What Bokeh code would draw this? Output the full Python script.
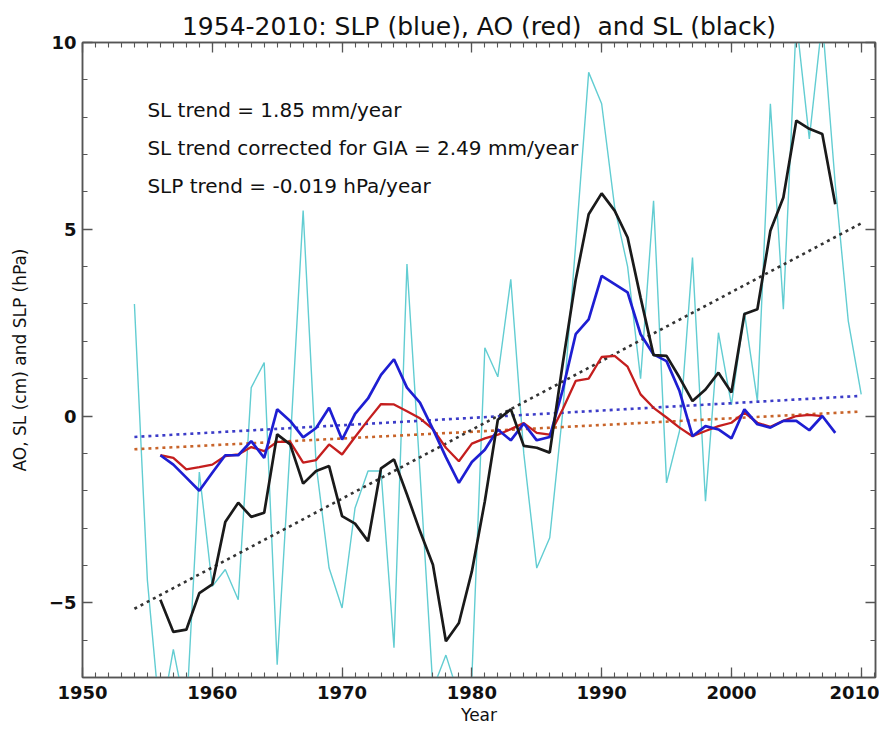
from bokeh.plotting import figure
from bokeh.models import Range1d, LinearAxis, SingleIntervalTicker, Label
from bokeh.embed import file_html
from bokeh.resources import INLINE

# ---------------- data ----------------
years_sl = list(range(1956, 2009))
sl = [-4.92, -5.78, -5.72, -4.74, -4.51, -2.84, -2.32, -2.70, -2.59, -0.49,
      -0.76, -1.81, -1.47, -1.34, -2.68, -2.88, -3.35, -1.40, -1.16, -2.10,
      -3.08, -3.98, -6.03, -5.54, -4.16, -2.28, -0.10, 0.18, -0.80, -0.85,
      -0.98, 1.40, 3.65, 5.40, 5.96, 5.50, 4.78, 3.17, 1.63, 1.61,
      1.03, 0.40, 0.71, 1.16, 0.63, 2.73, 2.86, 4.96, 5.85, 7.91,
      7.69, 7.55, 5.67]

years_slp = list(range(1956, 2009))
slp = [-1.05, -1.30, -1.65, -2.00, -1.52, -1.05, -1.05, -0.67, -1.12, 0.18,
       -0.13, -0.57, -0.32, 0.22, -0.63, 0.06, 0.47, 1.10, 1.52, 0.76,
       0.36, -0.35, -1.10, -1.79, -1.23, -0.90, -0.36, -0.65, -0.20, -0.65,
       -0.56, 0.70, 2.19, 2.59, 3.75, 3.53, 3.31, 2.19, 1.65, 1.47,
       0.67, -0.54, -0.27, -0.36, -0.60, 0.18, -0.22, -0.31, -0.13, -0.13,
       -0.38, 0.00, -0.45]

years_ao = list(range(1956, 2008))
ao = [-1.05, -1.12, -1.43, -1.37, -1.30, -1.07, -1.03, -0.83, -0.94, -0.69,
      -0.69, -1.25, -1.18, -0.76, -1.03, -0.56, -0.11, 0.32, 0.31, 0.13,
      -0.06, -0.35, -0.85, -1.21, -0.74, -0.60, -0.50, -0.35, -0.19, -0.45,
      -0.50, 0.18, 0.94, 1.00, 1.58, 1.61, 1.32, 0.58, 0.22, -0.04,
      -0.31, -0.54, -0.40, -0.27, -0.18, 0.09, -0.18, -0.29, -0.13, 0.00,
      0.03, 0.00]

years_annual = list(range(1954, 2011))
slp_annual = [3.00, -4.40, -8.20, -6.25, -8.00, -1.50, -4.56, -4.11, -4.92, 0.76,
              1.43, -6.66, -0.80, 5.50, -1.30, -4.07, -5.14, -2.46, -1.47, -1.47,
              -6.20, 4.07, -1.50, -7.30, -6.40, -7.50, -7.00, 1.83, 1.05, 3.66,
              -1.00, -4.07, -3.26, 0.10, 4.60, 9.20, 8.36, 5.60, 4.00, 1.00,
              5.76, -1.79, -0.40, 4.24, -2.28, 2.23, 0.30, 2.77, 0.40, 8.36,
              2.86, 10.60, 7.42, 10.60, 6.20, 2.55, 0.58]

trend_years = [1954, 2010]
sl_trend = [-5.16, 5.16]
slp_trend = [-0.56, 0.54]
ao_trend = [-0.89, 0.12]

notes = ["SL trend = 1.85 mm/year",
         "SL trend corrected for GIA = 2.49 mm/year",
         "SLP trend = -0.019 hPa/year"]
note_y = [8.18, 7.18, 6.17]

FONT = "DejaVu Sans"
AX = "#555555"

p = figure(width=879, height=730,
           x_range=Range1d(1950, 2011.1), y_range=Range1d(-7, 10),
           output_backend="svg", toolbar_location=None,
           min_border_left=82, min_border_right=4,
           min_border_top=42, min_border_bottom=53,
           title="1954-2010: SLP (blue), AO (red)\u00a0 and SL (black)")
p.title.align = "center"
p.title.offset = -6
p.title.text_font = FONT
p.title.text_font_size = "25px"
p.title.text_font_style = "normal"
p.title.text_color = "#111111"
p.title.standoff = 4
p.grid.visible = False
p.outline_line_color = AX
p.outline_line_width = 1.5
p.background_fill_color = "white"
p.border_fill_color = "white"

xt = SingleIntervalTicker(interval=10, num_minor_ticks=10)
yt = SingleIntervalTicker(interval=5, num_minor_ticks=5)


def style(ax, labels=True):
    ax.axis_line_color = AX
    ax.axis_line_width = 1.5
    ax.major_tick_line_color = AX
    ax.minor_tick_line_color = AX
    ax.major_tick_line_width = 1.3
    ax.minor_tick_line_width = 1.1
    ax.major_tick_in = 10
    ax.major_tick_out = 0
    ax.minor_tick_in = 5
    ax.minor_tick_out = 0
    if labels:
        ax.major_label_text_font = FONT
        ax.major_label_text_font_size = "18px"
        ax.major_label_text_font_style = "bold"
        ax.major_label_text_color = "#111111"
        ax.axis_label_text_font = FONT
        ax.axis_label_text_font_size = "17px"
        ax.axis_label_text_font_style = "normal"
        ax.axis_label_text_color = "#111111"
    else:
        ax.major_label_text_color = None
        ax.major_label_text_font_size = "1px"
        ax.major_label_standoff = 0


p.xaxis.ticker = xt
p.yaxis.ticker = yt
style(p.xaxis[0])
style(p.yaxis[0])
p.xaxis.axis_label = "Year"
p.xaxis.major_label_standoff = 8
p.xaxis.axis_label_standoff = 3
p.yaxis.axis_label = "AO, SL (cm) and SLP (hPa)"
p.yaxis.major_label_standoff = 6
p.yaxis.axis_label_standoff = 16
p.yaxis.major_label_overrides = {-5: "\u22125"}

top = LinearAxis(ticker=SingleIntervalTicker(interval=10, num_minor_ticks=10))
style(top, labels=False)
p.add_layout(top, "above")
right = LinearAxis(ticker=SingleIntervalTicker(interval=5, num_minor_ticks=5))
style(right, labels=False)
p.add_layout(right, "right")

# ---------------- glyphs ----------------
p.line(years_annual, slp_annual, color="#62cdd2", line_width=1.4)
p.line(trend_years, ao_trend, color="#c8642a", line_width=2.6, line_dash="3 4")
p.line(trend_years, slp_trend, color="#3c3cc8", line_width=2.6, line_dash="3 4")
p.line(trend_years, sl_trend, color="#333333", line_width=2.6, line_dash="3 4")
p.line(years_ao, ao, color="#c41e1e", line_width=2.3)
p.line(years_slp, slp, color="#1e1ed2", line_width=2.7)
p.line(years_sl, sl, color="#1a1a1a", line_width=2.7)

for t, yv in zip(notes, note_y):
    p.add_layout(Label(x=1955.0, y=yv, text=t, text_font=FONT,
                       text_font_size="20px", text_baseline="middle",
                       text_color="#111111"))

open("out.html", "w").write(file_html(p, INLINE))
